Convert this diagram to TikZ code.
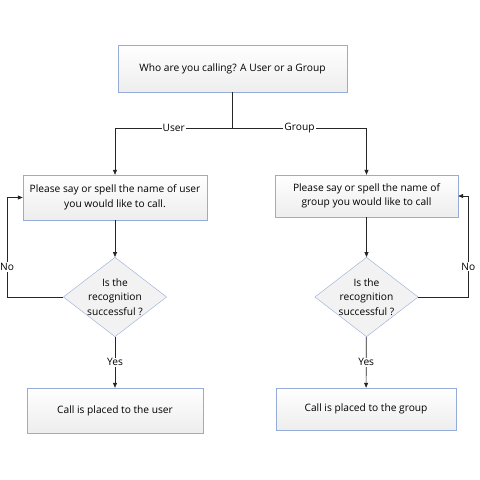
\documentclass[tikz,border=0pt]{standalone}
\usepackage{fontspec}
\setmainfont{Open Sans}
\usetikzlibrary{shapes.geometric,shadows,arrows.meta}

\definecolor{boxline}{RGB}{149,172,216}

\begin{document}
\begin{tikzpicture}[x=1pt,y=-1pt,
    every node/.style={font=\fontsize{10.2}{14.4}\selectfont},
    askbox/.style={draw=boxline,top color=white,bottom color=black!7,
      inner sep=0pt,align=center,
      drop shadow={opacity=0.25,shadow xshift=1pt,shadow yshift=-1pt}},
    checkbox/.style={diamond,draw=boxline,fill=black!5,inner sep=0pt,
      shape aspect=1.3,minimum width=102,minimum height=78,align=center},
    tag/.style={fill=white,inner sep=1pt},
    link/.style={draw=black!85,line width=0.7pt,>={Triangle[length=5pt,width=4pt]}}]
    \fill[white] (0,0) rectangle (480,480);
    \useasboundingbox (0,0) rectangle (480,480);

    % start
    \node[askbox,minimum width=229,minimum height=47] (who) at (232.5,68.5)
      {Who are you calling? A User or a Group};
    \coordinate (split) at (232.5,128);

    % user side
    \node[askbox,minimum width=184,minimum height=45] (ubox) at (115,197.5)
      {Please say or spell the name of user\\you would like to call.};
    \node[checkbox] (udec) at (115,297) {Is the\\recognition\\successful ?};
    \node[askbox,minimum width=176,minimum height=45] (ucall) at (115,410.5)
      {Call is placed to the user};

    % group side
    \node[askbox,minimum width=183,minimum height=42] (gbox) at (366.5,196)
      {Please say or spell the name of\\group you would like to call};
    \node[checkbox] (gdec) at (366.5,297) {Is the\\recognition\\successful ?};
    \node[askbox,minimum width=180,minimum height=42] (gcall) at (366,409)
      {Call is placed to the group};

    \draw[link] (who) -- (split);
    \draw[link,->] (split) -| node[tag,pos=0.25] {User} (ubox);
    \draw[link,->] (split) -| node[tag,pos=0.25] {Group} (gbox);
    \draw[link,->] (ubox) -- (udec);
    \draw[link,->] (gbox) -- (gdec);
    \draw[link,->] (udec) -- node[tag] {Yes} (ucall);
    \draw[link,->] (gdec) -- node[tag] {Yes} (gcall);
    \draw[link,->] (udec.west) -- ++(-56,0) |- node[tag,pos=0.15] {No} (ubox.west);
    \draw[link,->] (gdec.east) -- ++(50,0) |- node[tag,pos=0.15] {No} (gbox.east);
  \end{tikzpicture}
\end{document}
